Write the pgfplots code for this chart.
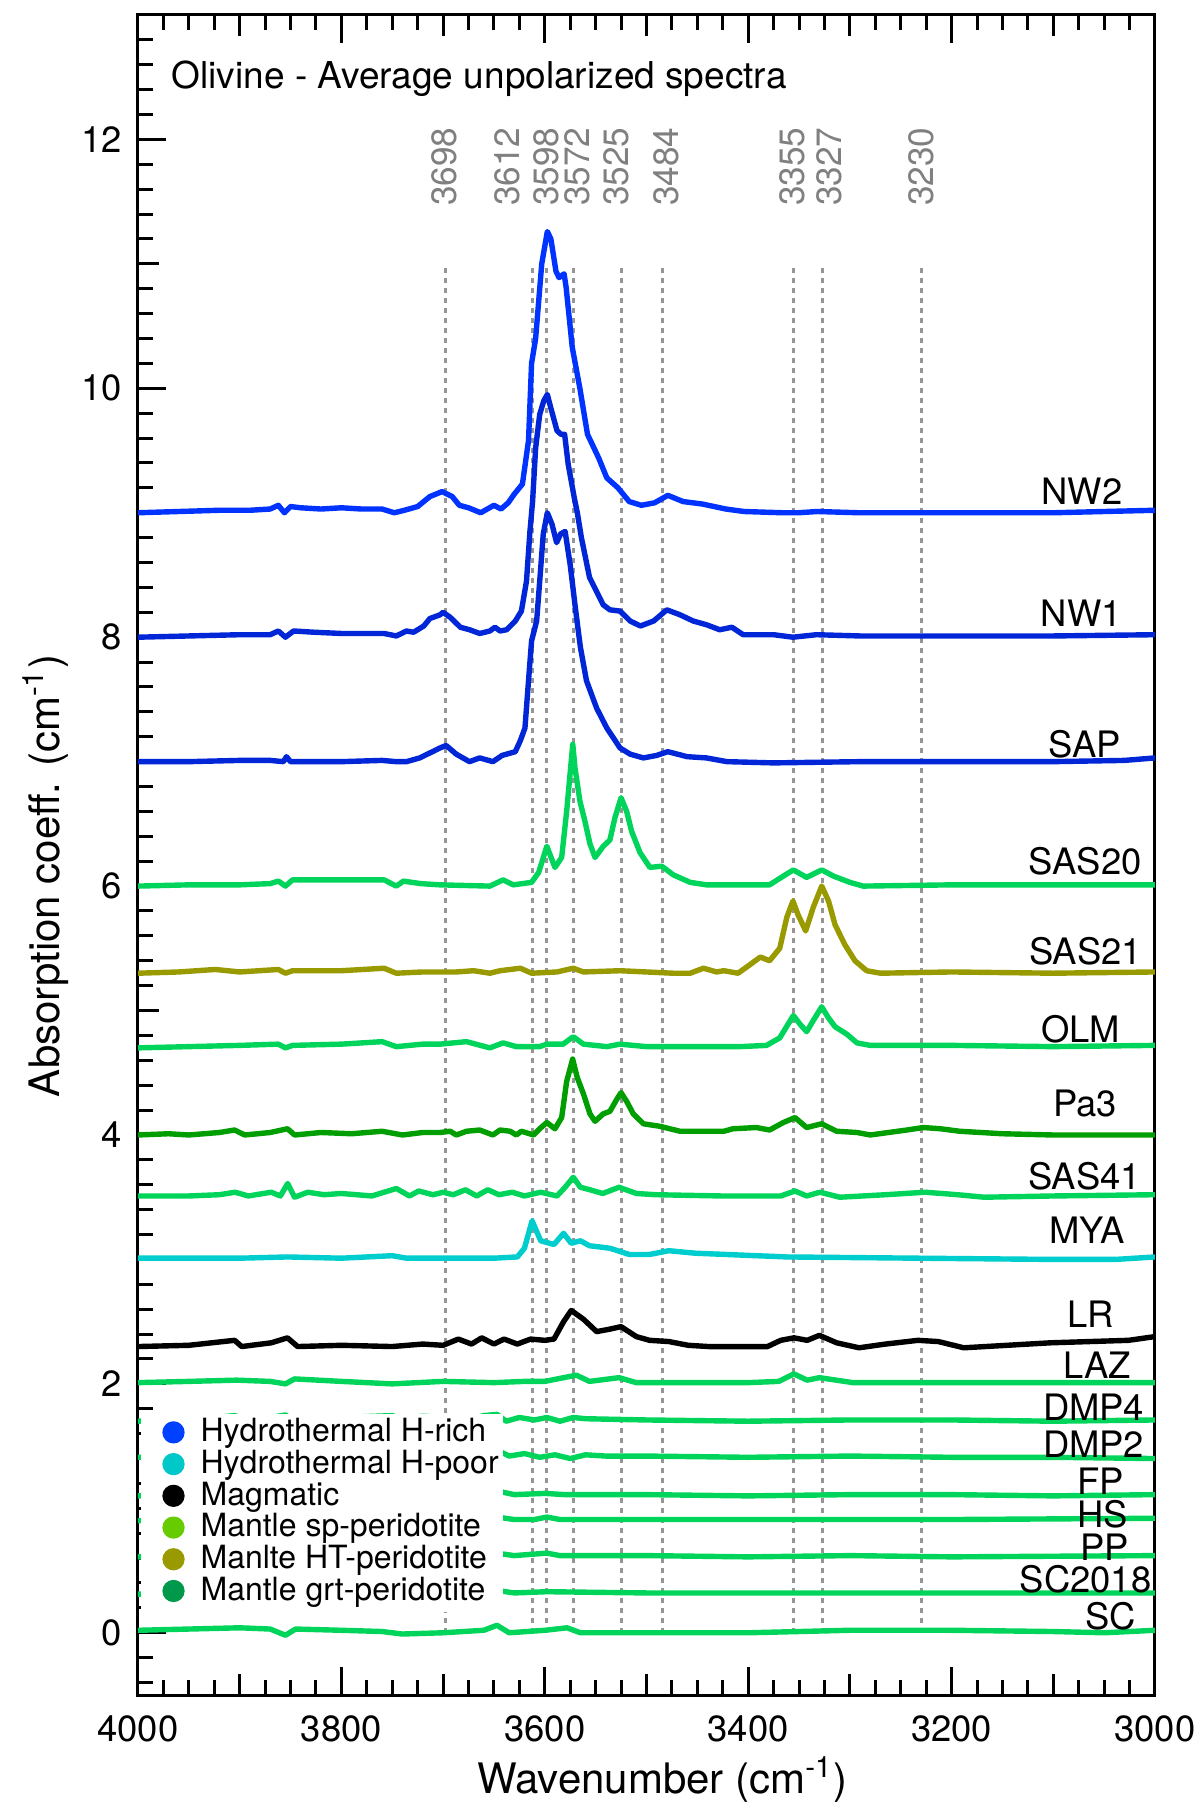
\documentclass[border=0pt]{standalone}
\usepackage{fontspec}
\setmainfont{TeX Gyre Heros}
\usepackage{pgfplots}
\pgfplotsset{compat=1.18}

% trace colours
\definecolor{hrichA}{RGB}{0,51,255}
\definecolor{hrichB}{RGB}{0,38,216}
\definecolor{hpoor}{RGB}{0,205,205}
\definecolor{spring}{RGB}{0,212,90}
\definecolor{pagreen}{RGB}{0,158,0}
\definecolor{olivetr}{RGB}{153,153,0}
% legend colours
\definecolor{legrich}{RGB}{0,64,255}
\definecolor{legpoor}{RGB}{0,200,200}
\definecolor{legsp}{RGB}{102,204,0}
\definecolor{leght}{RGB}{153,153,0}
\definecolor{leggrt}{RGB}{0,153,76}
% band markers
\definecolor{bandline}{RGB}{150,150,150}
\definecolor{bandtext}{RGB}{128,128,128}

\newcommand{\tagfont}{\fontsize{9.1bp}{10bp}\selectfont}
\newcommand{\bandfont}{\fontsize{8.8bp}{10bp}\selectfont}

\begin{document}
\begin{tikzpicture}
\begin{axis}[
  name=ax,
  scale only axis,
  width=254.25bp, height=420bp,
  x dir=reverse,
  xmin=3000, xmax=4000, ymin=-0.5, ymax=13,
  axis line style={line width=0.75bp},
  every tick/.style={line width=0.75bp, black},
  tick align=inside,
  xtick={3000,3200,...,4000},
  minor xtick={3025,3050,...,3975},
  extra x ticks={3100,3300,3500,3700,3900},
  extra x tick labels={},
  extra x tick style={major tick length=5.3bp},
  ytick={0,2,...,12},
  minor ytick={-0.4,-0.2,...,12.9},
  extra y ticks={1,3,5,7,9,11},
  extra y tick labels={},
  extra y tick style={major tick length=5.3bp},
  xtick pos=both, ytick pos=left,
  major tick length=7bp, minor tick length=3.8bp,
  /pgf/number format/assume math mode=true,
  /pgf/number format/1000 sep={},
  ticklabel style={font=\fontsize{9.1bp}{10bp}\selectfont},
  xticklabel style={inner sep=0pt, yshift=-5bp},
  yticklabel style={inner sep=0pt, xshift=-3.75bp},
  xlabel={Wavenumber (cm\textsuperscript{-1})},
  ylabel={Absorption coeff. (cm\textsuperscript{-1})},
  xlabel style={at={(axis description cs:0.5157,0)}, anchor=base, yshift=-24.5bp,
    inner sep=0pt, font=\fontsize{10.5bp}{12bp}\selectfont},
  ylabel style={at={(axis description cs:0,0.4875)}, anchor=center, yshift=23bp,
    inner sep=0pt, font=\fontsize{10.5bp}{12bp}\selectfont},
  every axis plot/.append style={line width=1.35bp, line join=round},
  legend style={
    at={(axis description cs:0.002,0.1679)}, anchor=north west,
    fill=white, draw=none,
    inner xsep=1.2bp, inner ysep=1bp,
    row sep=0pt, column sep=4bp,
    font=\fontsize{8bp}{9bp}\selectfont,
    nodes={inner sep=0pt, text height=6bp, text depth=1.93bp},
  },
  legend cell align=left,
  legend image code/.code={%
    \path (-6.3bp,0bp) (2.1bp,0bp);
    \fill[#1, overlay] (0bp,0.3bp) circle (2.1bp);},
]

% assignment guides
\pgfplotsinvokeforeach{3698,3612,3598,3572,3525,3484,3355,3327,3230}{
  \addplot[bandline, line width=0.75bp, dash pattern=on 1.3bp off 1.2bp, forget plot]
    coordinates {(#1,0) (#1,11)};
}

% SC
\addplot[spring, forget plot] coordinates {
(4000,0.02) (3950,0.03) (3900,0.04) (3870,0.03) (3855,-0.02) (3845,0.03) (3800,0.02)
(3760,0.01) (3740,-0.01) (3700,0.00) (3660,0.02) (3647,0.06) (3635,0.00) (3600,0.02)
(3578,0.04) (3565,0.00) (3500,0.00) (3400,0.00) (3300,0.02) (3200,0.02) (3100,0.01)
(3050,0.00) (3000,0.02)};
% SC2018
\addplot[spring, forget plot] coordinates {
(4000,0.31) (3900,0.32) (3800,0.33) (3700,0.32) (3647,0.34) (3630,0.32) (3598,0.33)
(3500,0.32) (3400,0.32) (3300,0.32) (3200,0.32) (3000,0.32)};
% PP
\addplot[spring, forget plot] coordinates {
(4000,0.61) (3900,0.62) (3800,0.63) (3700,0.62) (3647,0.64) (3630,0.62) (3598,0.64)
(3585,0.62) (3500,0.62) (3400,0.61) (3300,0.62) (3200,0.61) (3000,0.62)};
% HS
\addplot[spring, forget plot] coordinates {
(4000,0.90) (3900,0.91) (3800,0.92) (3700,0.92) (3647,0.93) (3630,0.91) (3610,0.91)
(3598,0.93) (3585,0.91) (3500,0.91) (3400,0.91) (3300,0.91) (3200,0.91) (3000,0.92)};
% FP
\addplot[spring, forget plot] coordinates {
(4000,1.10) (3900,1.11) (3800,1.11) (3700,1.12) (3660,1.11) (3647,1.14) (3630,1.11)
(3600,1.12) (3580,1.11) (3500,1.11) (3400,1.10) (3300,1.11) (3200,1.11) (3100,1.10)
(3000,1.11)};
% DMP2
\addplot[spring, forget plot] coordinates {
(4000,1.41) (3900,1.42) (3855,1.43) (3800,1.42) (3750,1.43) (3700,1.42) (3660,1.43)
(3647,1.47) (3635,1.42) (3620,1.44) (3605,1.41) (3590,1.43) (3575,1.40) (3560,1.43)
(3540,1.42) (3500,1.42) (3400,1.41) (3300,1.42) (3200,1.41) (3100,1.41) (3000,1.40)};
% DMP4
\addplot[spring, forget plot] coordinates {
(4000,1.70) (3950,1.71) (3905,1.745) (3895,1.72) (3870,1.73) (3855,1.75) (3848,1.71)
(3800,1.73) (3750,1.745) (3740,1.72) (3720,1.74) (3700,1.73) (3672,1.72) (3660,1.745)
(3647,1.755) (3638,1.70) (3625,1.73) (3610,1.71) (3598,1.73) (3585,1.70) (3572,1.73)
(3560,1.72) (3500,1.71) (3400,1.70) (3300,1.71) (3200,1.71) (3100,1.70) (3000,1.71)};
% LAZ
\addplot[spring, forget plot] coordinates {
(4000,2.01) (3950,2.02) (3903,2.03) (3870,2.02) (3855,2.00) (3846,2.04) (3800,2.02)
(3750,2.00) (3700,2.02) (3650,2.01) (3620,2.02) (3600,2.02) (3569,2.07) (3556,2.02)
(3527,2.05) (3510,2.01) (3400,2.01) (3370,2.02) (3355,2.08) (3342,2.03) (3330,2.05)
(3297,2.01) (3200,2.01) (3100,2.01) (3000,2.01)};
% LR
\addplot[black, forget plot] coordinates {
(4000,2.30) (3950,2.31) (3905,2.35) (3898,2.30) (3869,2.33) (3853,2.37) (3843,2.30)
(3800,2.31) (3750,2.30) (3720,2.32) (3700,2.31) (3685,2.36) (3672,2.32) (3662,2.37)
(3650,2.32) (3640,2.36) (3627,2.32) (3614,2.36) (3600,2.35) (3591,2.36) (3581.5,2.50)
(3574,2.59) (3562,2.52) (3549,2.42) (3536,2.44) (3525,2.46) (3510,2.38) (3497,2.35)
(3478,2.34) (3459,2.31) (3439,2.30) (3381,2.30) (3368,2.35) (3355,2.37) (3342,2.35)
(3330,2.39) (3313,2.33) (3291,2.29) (3265,2.32) (3233,2.35) (3213,2.34) (3188,2.29)
(3103,2.33) (3026,2.35) (3000,2.38)};
% MYA
\addplot[hpoor, forget plot] coordinates {
(4000,3.01) (3900,3.01) (3853,3.02) (3800,3.01) (3750,3.03) (3736,3.01) (3700,3.01)
(3650,3.01) (3627,3.02) (3620,3.09) (3612.5,3.31) (3604,3.15) (3591,3.12) (3581.5,3.21)
(3574,3.13) (3565,3.15) (3556,3.11) (3536,3.09) (3517,3.04) (3497,3.04) (3478,3.07)
(3452,3.05) (3362,3.02) (3233,3.01) (3100,3.00) (3039,3.00) (3000,3.02)};
% SAS41
\addplot[spring, forget plot] coordinates {
(4000,3.51) (3950,3.51) (3920,3.52) (3904.5,3.54) (3891.5,3.51) (3869,3.54) (3860,3.51)
(3852.8,3.61) (3846,3.50) (3833,3.54) (3817,3.52) (3800,3.53) (3770,3.51) (3746,3.57)
(3733,3.51) (3724,3.55) (3710,3.52) (3700,3.54) (3690,3.52) (3678,3.56) (3667,3.51)
(3656,3.56) (3645,3.52) (3632,3.54) (3620,3.51) (3604,3.54) (3588,3.51) (3580,3.58)
(3572,3.66) (3565,3.58) (3555.6,3.56) (3543,3.53) (3527,3.58) (3510,3.53) (3491,3.52)
(3426,3.51) (3368,3.51) (3354,3.55) (3342.5,3.51) (3329.5,3.54) (3310,3.50) (3265,3.52)
(3226,3.54) (3194,3.52) (3168,3.50) (3100,3.51) (3000,3.52)};
% Pa3
\addplot[pagreen, forget plot] coordinates {
(4000,4.00) (3970,4.01) (3950,4.00) (3920,4.02) (3905,4.04) (3895,4.00) (3870,4.02)
(3853,4.05) (3846,4.00) (3820,4.02) (3790,4.01) (3760,4.03) (3740,4.00) (3720,4.02)
(3703,4.02) (3693,4.03) (3687,4.00) (3677,4.03) (3664,4.04) (3651,4.00) (3644,4.04)
(3634,4.03) (3628,4.00) (3623,4.03) (3611,4.00) (3605,4.05) (3598,4.10) (3590,4.05)
(3583.4,4.14) (3578.5,4.43) (3572.6,4.61) (3568,4.46) (3562,4.33) (3555.6,4.17)
(3550.6,4.11) (3542.5,4.17) (3536,4.19) (3529,4.29) (3525,4.34) (3519.5,4.27)
(3513,4.17) (3503,4.09) (3487,4.07) (3467,4.03) (3424,4.03) (3415,4.05) (3392,4.06)
(3379,4.04) (3365.5,4.10) (3354,4.14) (3342.5,4.06) (3327.7,4.09) (3313,4.03)
(3293,4.02) (3280,4.00) (3244,4.04) (3228,4.06) (3211,4.05) (3192,4.03) (3150,4.01)
(3100,4.00) (3050,4.00) (3000,4.00)};
% OLM
\addplot[spring, forget plot] coordinates {
(4000,4.70) (3950,4.71) (3900,4.72) (3862,4.73) (3855,4.70) (3848,4.72) (3800,4.73)
(3760,4.75) (3746,4.71) (3720,4.73) (3703,4.73) (3677,4.75) (3654,4.70) (3641,4.74)
(3628,4.71) (3605,4.71) (3598,4.73) (3582,4.73) (3572,4.79) (3562,4.73) (3539,4.71)
(3526,4.73) (3500,4.71) (3408,4.71) (3382,4.72) (3369,4.78) (3355.6,4.96) (3349,4.89)
(3342.5,4.83) (3336,4.92) (3327.7,5.03) (3321,4.94) (3314.6,4.87) (3303,4.81)
(3293,4.74) (3280,4.72) (3200,4.72) (3100,4.71) (3000,4.72)};
% SAS21
\addplot[olivetr, forget plot] coordinates {
(4000,5.30) (3960,5.31) (3924,5.33) (3900,5.31) (3862,5.33) (3855,5.30) (3848,5.32)
(3800,5.32) (3758,5.34) (3746,5.30) (3720,5.31) (3703,5.31) (3687,5.31) (3670,5.32)
(3654,5.30) (3644,5.32) (3624,5.34) (3613,5.30) (3588,5.31) (3572,5.34) (3562,5.31)
(3526,5.32) (3474,5.30) (3457,5.30) (3444,5.34) (3431,5.31) (3424,5.32) (3410,5.30)
(3398,5.37) (3388,5.43) (3379,5.40) (3369,5.50) (3362,5.75) (3356,5.88) (3351,5.77)
(3343.5,5.64) (3336,5.83) (3327.7,6.00) (3321,5.88) (3314.6,5.69) (3305,5.53)
(3295,5.40) (3283.5,5.32) (3270,5.30) (3200,5.31) (3100,5.30) (3000,5.31)};
% SAS20
\addplot[spring, forget plot] coordinates {
(4000,6.00) (3950,6.01) (3900,6.01) (3870,6.02) (3862,6.04) (3855,6.00) (3848,6.05)
(3811,6.05) (3780,6.05) (3758,6.05) (3746,6.00) (3739,6.04) (3722,6.02) (3703,6.01)
(3654,6.00) (3641,6.05) (3631,6.01) (3613,6.03) (3606,6.11) (3598,6.32) (3590,6.15)
(3583.4,6.23) (3578.5,6.60) (3574.6,6.95) (3572.5,7.14) (3570.3,6.95) (3565.4,6.68)
(3560.5,6.52) (3555.6,6.34) (3550.6,6.23) (3542.5,6.32) (3536,6.37) (3531,6.55)
(3525,6.71) (3519.5,6.60) (3514.6,6.44) (3506.4,6.27) (3496.6,6.15) (3485,6.16)
(3473.6,6.09) (3457,6.03) (3441,6.01) (3379,6.01) (3365.5,6.08) (3355.6,6.13)
(3342.5,6.07) (3327.7,6.13) (3316,6.08) (3300,6.03) (3287,6.00) (3200,6.01)
(3100,6.01) (3000,6.01)};
% SAP
\addplot[hrichB, forget plot] coordinates {
(4000,7.00) (3950,7.00) (3900,7.01) (3870,7.01) (3857,7.00) (3854,7.04) (3850,7.00)
(3800,7.00) (3760,7.01) (3746,7.00) (3736,7.00) (3723,7.03) (3713,7.07) (3703,7.11)
(3697,7.13) (3687,7.06) (3674,7.00) (3664,7.03) (3651,7.00) (3642,7.05) (3629,7.08)
(3624,7.17) (3619.5,7.27) (3616,7.65) (3613,7.97) (3608,8.13) (3605,8.45) (3601.5,8.83)
(3597.5,9.00) (3593,8.91) (3588.4,8.76) (3584.4,8.83) (3580,8.85) (3575,8.58)
(3570,8.24) (3565,7.92) (3559,7.65) (3549,7.43) (3539,7.27) (3526,7.11) (3516,7.06)
(3503,7.03) (3490,7.05) (3479,7.08) (3460,7.04) (3441,7.03) (3421,7.00) (3375,6.99)
(3290,7.00) (3200,7.00) (3100,7.00) (3030,7.01) (3000,7.03)};
% NW1
\addplot[hrichB, forget plot] coordinates {
(4000,8.00) (3950,8.01) (3900,8.02) (3870,8.02) (3862,8.05) (3855,8.00) (3847,8.05)
(3827,8.04) (3800,8.03) (3778,8.03) (3758,8.03) (3746,8.01) (3736,8.05) (3729,8.04)
(3719,8.09) (3713,8.15) (3703,8.18) (3700,8.20) (3693,8.16) (3683,8.08) (3674,8.06)
(3664,8.03) (3654,8.05) (3649,8.08) (3644,8.05) (3637.5,8.06) (3629,8.13) (3623,8.21)
(3618,8.45) (3614.6,8.85) (3612,9.09) (3609,9.52) (3605,9.79) (3601,9.90) (3597.5,9.95)
(3594,9.84) (3588,9.66) (3584,9.63) (3580.5,9.63) (3577,9.39) (3571,9.12) (3568,9.00)
(3564,8.80) (3562,8.72) (3556,8.48) (3542.5,8.26) (3536,8.22) (3526,8.21) (3516,8.13)
(3506,8.09) (3493,8.13) (3480,8.22) (3467,8.18) (3454,8.13) (3441,8.10) (3428,8.06)
(3416,8.08) (3405,8.02) (3375,8.02) (3356,8.00) (3333,8.02) (3290,8.01) (3200,8.01)
(3100,8.01) (3000,8.02)};
% NW2
\addplot[hrichA, forget plot] coordinates {
(4000,9.00) (3960,9.01) (3920,9.02) (3890,9.02) (3870,9.03) (3862,9.06) (3856,9.00)
(3850,9.05) (3840,9.04) (3820,9.03) (3800,9.04) (3780,9.03) (3760,9.03) (3748,9.00)
(3738,9.02) (3725,9.05) (3713,9.13) (3701,9.17) (3691,9.13) (3684,9.06) (3675,9.04)
(3663,9.00) (3650,9.06) (3643,9.03) (3636,9.08) (3630,9.15) (3622,9.23) (3616,9.58)
(3613,10.20) (3609,10.40) (3603,11.00) (3597.5,11.26) (3594,11.20) (3589,10.94)
(3586,10.89) (3581,10.92) (3579,10.81) (3573,10.33) (3565.5,10.00) (3558,9.63)
(3547,9.44) (3539,9.28) (3528,9.20) (3517,9.09) (3505,9.06) (3492,9.08) (3479,9.14)
(3464,9.09) (3445,9.07) (3422,9.03) (3404,9.01) (3366,9.00) (3351,9.00) (3332,9.01)
(3291,9.00) (3200,9.00) (3100,9.00) (3000,9.02)};

% band positions
\node[rotate=90, anchor=west, inner sep=0pt, text=bandtext, font=\bandfont] at (axis cs:3699,11.46) {3698};
\node[rotate=90, anchor=west, inner sep=0pt, text=bandtext, font=\bandfont] at (axis cs:3637,11.46) {3612};
\node[rotate=90, anchor=west, inner sep=0pt, text=bandtext, font=\bandfont] at (axis cs:3599,11.46) {3598};
\node[rotate=90, anchor=west, inner sep=0pt, text=bandtext, font=\bandfont] at (axis cs:3568,11.46) {3572};
\node[rotate=90, anchor=west, inner sep=0pt, text=bandtext, font=\bandfont] at (axis cs:3530,11.46) {3525};
\node[rotate=90, anchor=west, inner sep=0pt, text=bandtext, font=\bandfont] at (axis cs:3481,11.46) {3484};
\node[rotate=90, anchor=west, inner sep=0pt, text=bandtext, font=\bandfont] at (axis cs:3357,11.46) {3355};
\node[rotate=90, anchor=west, inner sep=0pt, text=bandtext, font=\bandfont] at (axis cs:3320,11.46) {3327};
\node[rotate=90, anchor=west, inner sep=0pt, text=bandtext, font=\bandfont] at (axis cs:3230,11.46) {3230};

% title
\node[anchor=base west, inner sep=0pt, font=\fontsize{9.25bp}{11bp}\selectfont] at (axis cs:3967.6,12.41) {Olivine - Average unpolarized spectra};

% sample names
\begin{scope}[every node/.style={anchor=base east, inner sep=0pt, font=\tagfont}]
\node at (axis cs:3031.2,9.07) {NW2};
\node at (axis cs:3031.8,8.088) {NW1};
\node at (axis cs:3032.7,7.037) {SAP};
\node at (axis cs:3012.5,6.095) {SAS20};
\node at (axis cs:3012.1,5.368) {SAS21};
\node at (axis cs:3033.7,4.742) {OLM};
\node at (axis cs:3036.7,4.151) {Pa3};
\node at (axis cs:3013,3.565) {SAS41};
\node at (axis cs:3028.8,3.127) {MYA};
\node at (axis cs:3039.3,2.456) {LR};
\node at (axis cs:3022.6,2.047) {LAZ};
\node at (axis cs:3009.8,1.709) {DMP4};
\node at (axis cs:3009.8,1.412) {DMP2};
\node at (axis cs:3029.5,1.115) {FP};
\node at (axis cs:3025.6,0.848) {HS};
\node at (axis cs:3024.6,0.584) {PP};
\node at (axis cs:3002.9,0.327) {SC2018};
\node at (axis cs:3017.7,0.03) {SC};
\end{scope}

% categories
\addlegendimage{legrich}
\addlegendentry{Hydrothermal H-rich}
\addlegendimage{legpoor}
\addlegendentry{Hydrothermal H-poor}
\addlegendimage{black}
\addlegendentry{Magmatic}
\addlegendimage{legsp}
\addlegendentry{Mantle sp-peridotite}
\addlegendimage{leght}
\addlegendentry{Manlte HT-peridotite}
\addlegendimage{leggrt}
\addlegendentry{Mantle grt-peridotite}
\end{axis}
\pgfresetboundingbox
\path[use as bounding box] ([xshift=-34.5bp,yshift=-28bp]ax.south west) rectangle ([xshift=11bp,yshift=3.75bp]ax.north east);
\end{tikzpicture}
\end{document}
